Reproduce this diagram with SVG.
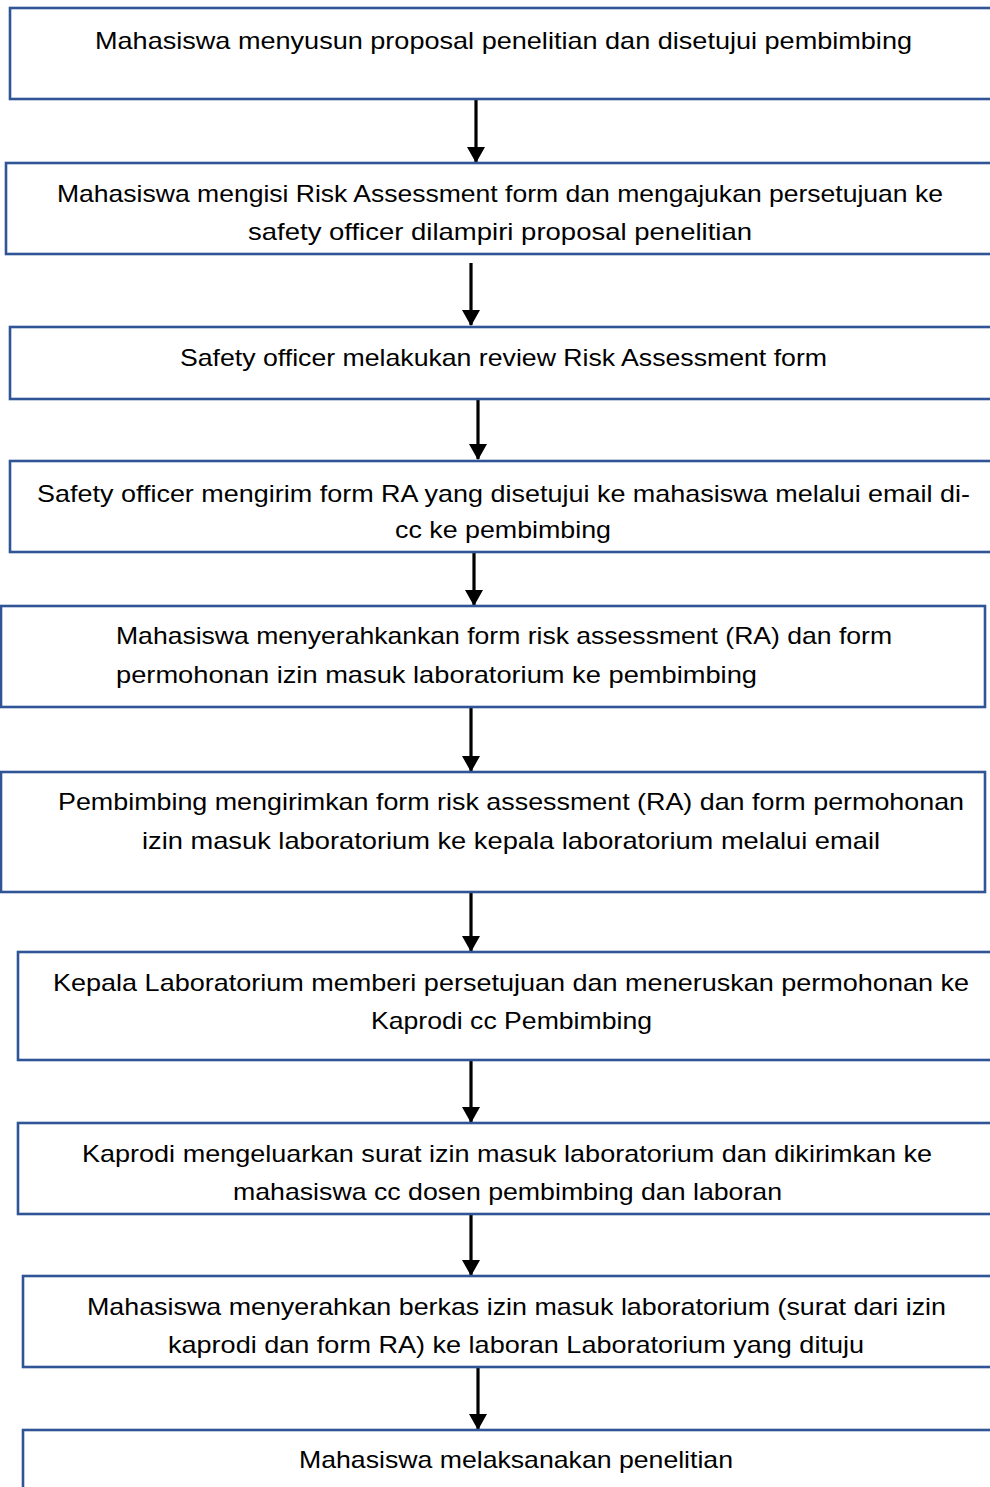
<svg xmlns="http://www.w3.org/2000/svg" width="990" height="1487" viewBox="0 0 990 1487">
<style>
.box{fill:#ffffff;stroke:#2f5597;stroke-width:2.6}
.t{font-family:"Liberation Sans",Arial,sans-serif;font-size:24px;fill:#000}
.c{stroke:#000;stroke-width:3.2;fill:none}
</style>
<defs>
<marker id="ahd" markerUnits="userSpaceOnUse" markerWidth="16" markerHeight="18" refX="15" refY="9" orient="auto" viewBox="0 0 16 18">
<path d="M0,0 L16,9 L0,18 Z" fill="#000"/>
</marker>
</defs>
<rect width="990" height="1487" fill="#ffffff"/>
<g id="connectors">
<line class="c" x1="476" y1="99" x2="476" y2="162" marker-end="url(#ahd)"/>
<line class="c" x1="471" y1="263" x2="471" y2="325" marker-end="url(#ahd)"/>
<line class="c" x1="478" y1="399" x2="478" y2="459" marker-end="url(#ahd)"/>
<line class="c" x1="474" y1="552" x2="474" y2="605" marker-end="url(#ahd)"/>
<line class="c" x1="471" y1="707" x2="471" y2="771" marker-end="url(#ahd)"/>
<line class="c" x1="471" y1="892" x2="471" y2="951" marker-end="url(#ahd)"/>
<line class="c" x1="471" y1="1060" x2="471" y2="1122" marker-end="url(#ahd)"/>
<line class="c" x1="471" y1="1214" x2="471" y2="1275" marker-end="url(#ahd)"/>
<line class="c" x1="478" y1="1367" x2="478" y2="1429" marker-end="url(#ahd)"/>
</g>
<g id="n1">
<rect class="box" x="10" y="8" width="990" height="91"/>
<text class="t" x="95" y="49" textLength="817" lengthAdjust="spacingAndGlyphs">Mahasiswa menyusun proposal penelitian dan disetujui pembimbing</text>
</g>
<g id="n2">
<rect class="box" x="6" y="163" width="994" height="91"/>
<text class="t" x="57" y="202" textLength="886" lengthAdjust="spacingAndGlyphs">Mahasiswa mengisi Risk Assessment form dan mengajukan persetujuan ke</text>
<text class="t" x="248" y="240" textLength="504" lengthAdjust="spacingAndGlyphs">safety officer dilampiri proposal penelitian</text>
</g>
<g id="n3">
<rect class="box" x="10" y="327" width="990" height="72"/>
<text class="t" x="180" y="366" textLength="647" lengthAdjust="spacingAndGlyphs">Safety officer melakukan review Risk Assessment form</text>
</g>
<g id="n4">
<rect class="box" x="10" y="461" width="990" height="91"/>
<text class="t" x="37" y="502" textLength="933" lengthAdjust="spacingAndGlyphs">Safety officer mengirim form RA yang disetujui ke mahasiswa melalui email di-</text>
<text class="t" x="395" y="538" textLength="216" lengthAdjust="spacingAndGlyphs">cc ke pembimbing</text>
</g>
<g id="n5">
<rect class="box" x="1" y="606" width="984" height="101"/>
<text class="t" x="116" y="644" textLength="776" lengthAdjust="spacingAndGlyphs">Mahasiswa menyerahkankan form risk assessment (RA) dan form</text>
<text class="t" x="116" y="683" textLength="641" lengthAdjust="spacingAndGlyphs">permohonan izin masuk laboratorium ke pembimbing</text>
</g>
<g id="n6">
<rect class="box" x="1" y="772" width="984" height="120"/>
<text class="t" x="58" y="810" textLength="906" lengthAdjust="spacingAndGlyphs">Pembimbing mengirimkan form risk assessment (RA) dan form permohonan</text>
<text class="t" x="142" y="849" textLength="738" lengthAdjust="spacingAndGlyphs">izin masuk laboratorium ke kepala laboratorium melalui email</text>
</g>
<g id="n7">
<rect class="box" x="18" y="952" width="982" height="108"/>
<text class="t" x="53" y="991" textLength="916" lengthAdjust="spacingAndGlyphs">Kepala Laboratorium memberi persetujuan dan meneruskan permohonan ke</text>
<text class="t" x="371" y="1029" textLength="281" lengthAdjust="spacingAndGlyphs">Kaprodi cc Pembimbing</text>
</g>
<g id="n8">
<rect class="box" x="18" y="1123" width="982" height="91"/>
<text class="t" x="82" y="1162" textLength="850" lengthAdjust="spacingAndGlyphs">Kaprodi mengeluarkan surat izin masuk laboratorium dan dikirimkan ke</text>
<text class="t" x="233" y="1200" textLength="549" lengthAdjust="spacingAndGlyphs">mahasiswa cc dosen pembimbing dan laboran</text>
</g>
<g id="n9">
<rect class="box" x="23" y="1276" width="977" height="91"/>
<text class="t" x="87" y="1315" textLength="859" lengthAdjust="spacingAndGlyphs">Mahasiswa menyerahkan berkas izin masuk laboratorium (surat dari izin</text>
<text class="t" x="168" y="1353" textLength="696" lengthAdjust="spacingAndGlyphs">kaprodi dan form RA) ke laboran Laboratorium yang dituju</text>
</g>
<g id="n10">
<rect class="box" x="23" y="1430" width="977" height="80"/>
<text class="t" x="299" y="1468" textLength="434" lengthAdjust="spacingAndGlyphs">Mahasiswa melaksanakan penelitian</text>
</g>
</svg>
